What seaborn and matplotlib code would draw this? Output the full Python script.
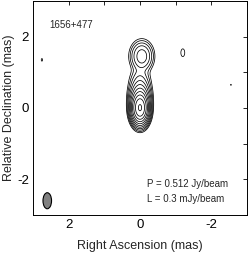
import numpy as np
import matplotlib
matplotlib.use("Agg")
import matplotlib.pyplot as plt
from matplotlib.patches import Ellipse
from matplotlib.ticker import MultipleLocator, FuncFormatter
import seaborn as sns

# --- source model components (mas, mJy/beam) ---
comp_x = [0.0, 0.0, 0.0, -0.05, 2.75, -2.55, -1.2]
comp_y = [0.0, 0.3, 0.7, 1.45, 1.35, 0.65, 1.55]
comp_flux = [330.0, 30.0, 3.0, 7.5, 0.36, 0.34, 0.45]
comp_sx = [0.10, 0.12, 0.14, 0.145, 0.03, 0.02, 0.06]
comp_sy = [0.185, 0.2, 0.22, 0.195, 0.06, 0.03, 0.12]

peak_label = "0.512"   # Jy/beam
lowest = 0.3           # mJy/beam
n_levels = 11

beam_x, beam_y = 2.6, -2.6
beam_w, beam_h = 0.24, 0.45

source = "1656+477"

sns.set_style("white")
plt.rcParams['font.family'] = ['Liberation Sans', 'DejaVu Sans']

fig = plt.figure(figsize=(2.49, 2.54), dpi=100)
ax = fig.add_axes([33/249, 39/254, 214/249, 214/254])

x = np.linspace(-3, 3, 801)
y = np.linspace(-3, 3, 801)
X, Y = np.meshgrid(x, y)
Z = np.zeros_like(X)
for cx, cy, f, sx, sy in zip(comp_x, comp_y, comp_flux, comp_sx, comp_sy):
    Z += f * np.exp(-0.5 * (((X - cx) / sx) ** 2 + ((Y - cy) / sy) ** 2))

levels = [lowest * 2 ** n for n in range(n_levels)]
ax.contour(X, Y, Z, levels=levels, colors='black', linewidths=0.55)

ax.add_patch(Ellipse((beam_x, beam_y), beam_w, beam_h, facecolor='#808080',
                     edgecolor='black', linewidth=0.8))

ax.set_xlim(3, -3)
ax.set_ylim(-3, 3)
for a in (ax.xaxis, ax.yaxis):
    a.set_major_locator(MultipleLocator(1))
    a.set_major_formatter(FuncFormatter(lambda v, p: f"{int(round(v))}" if int(round(v)) % 2 == 0 else ""))
ax.tick_params(direction='in', length=3, width=0.6, top=True, right=True,
               labelsize=9.5, pad=3, colors='black')
for s in ax.spines.values():
    s.set_linewidth(0.7)
    s.set_color('black')

ax.set_xlabel("Right Ascension (mas)", fontsize=9, labelpad=6)
ax.set_ylabel("Relative Declination (mas)", fontsize=9, labelpad=1.5)

ax.text(2.53, 2.32, source, fontsize=7, ha='left', va='center')
ax.text(-0.19, -2.13, f"P = {peak_label} Jy/beam", fontsize=7, ha='left', va='center')
ax.text(-0.19, -2.55, f"L = {lowest} mJy/beam", fontsize=7, ha='left', va='center')

fig.savefig("out.png", dpi=100)
